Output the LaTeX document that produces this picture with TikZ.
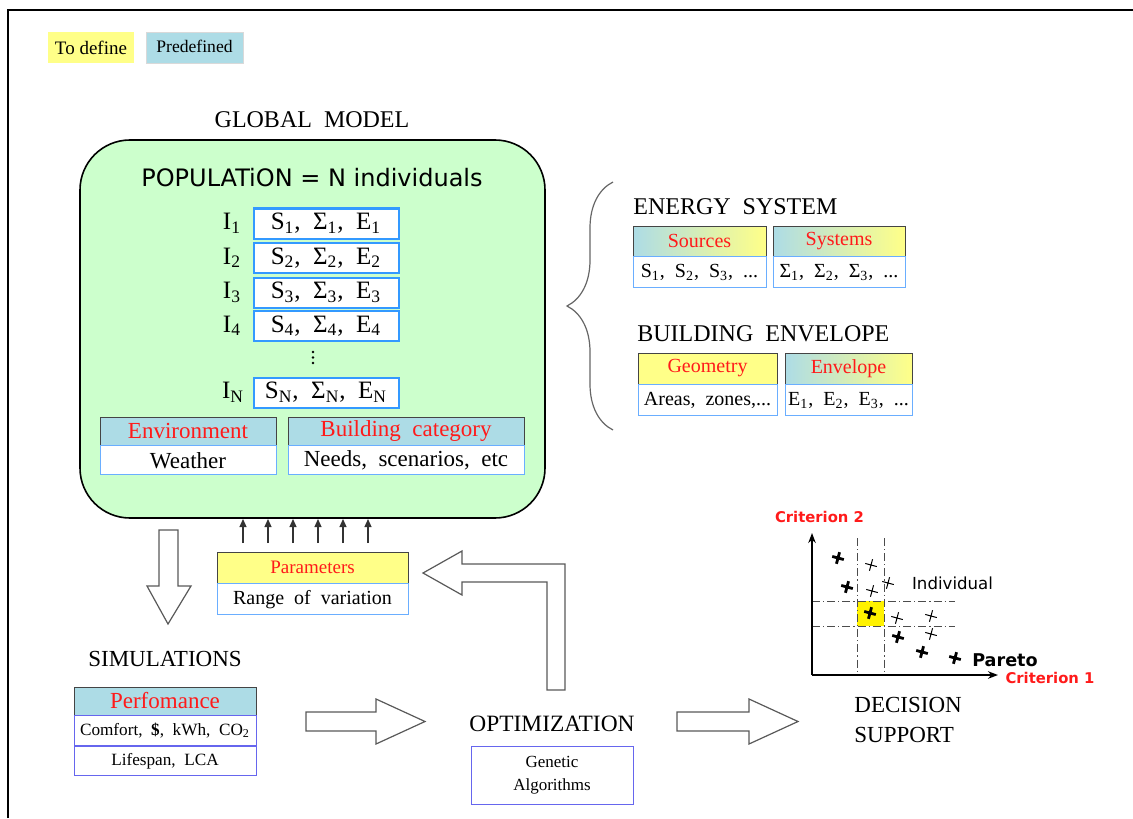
\documentclass[tikz,border=0pt]{standalone}
\usepackage{fontspec}
\setmainfont{Liberation Serif}
\newfontfamily\dvsans{DejaVu Sans}
\usetikzlibrary{positioning,arrows.meta,decorations.pathreplacing}
\definecolor{popgreen}{HTML}{CCFFCC}
\definecolor{predef}{HTML}{ADDCE6}
\definecolor{todef}{HTML}{FFFF88}
\definecolor{indblue}{HTML}{3399FF}
\definecolor{rowblue}{HTML}{6AAEFF}
\definecolor{perfblue}{HTML}{6666EE}
\definecolor{hdrgray}{HTML}{444444}
\definecolor{lblred}{HTML}{FF1A1A}
\newcommand\fs[1]{\fontsize{#1}{#1}\selectfont}
\tikzset{xmark/.pic={\draw (-6,0)--(6,0) (0,-6)--(0,6);}}

\begin{document}
\begin{tikzpicture}[x=0.5pt,y=-0.5pt,
  ttl/.style={font=\fs{12},inner sep=0pt},
  hdr/.style={draw=hdrgray,fill=predef,text=lblred,inner sep=0pt,minimum height=15pt,font=\fs{10}},
  grad/.style={hdr,left color=predef,right color=todef},
  ydr/.style={hdr,fill=todef},
  row/.style={draw=rowblue,fill=white,inner sep=0pt,minimum height=15.5pt,font=\fs{10}},
  prow/.style={row,draw=perfblue,font=\fs{8.6},minimum height=14.75pt},
  ind/.style={draw=indblue,line width=1pt,fill=white,inner sep=0pt,minimum width=72.5pt,
              minimum height=15pt,font=\fs{12.5}},
  lab/.style={font=\fs{12.5},inner sep=0pt},
  blk/.style={draw=black!65,fill=white,line width=0.6pt},
  upar/.style={-{Triangle[length=4pt,width=3.5pt]},draw=black!80,line width=0.6pt},
  axis/.style={line width=0.8pt,-{Stealth[length=5pt]}},
  guide/.style={black!70,line width=0.4pt,dash pattern=on 4pt off 1.5pt on 0.6pt off 1.5pt},
  crit/.style={font=\dvsans\bfseries\fs{7.4},text=lblred,inner sep=0pt}]
\useasboundingbox (0,0) rectangle (1133,818);
\draw[line width=1pt] (7.5,818) -- (7.5,10.5) -- (1133,10.5);

% legend
\node[fill=todef,minimum width=43pt,minimum height=15.5pt,inner sep=0pt,font=\fs{9.5}] (todefine) at (91,47.5) {To define};
\node[fill=predef,draw=black!15,minimum width=48.5pt,minimum height=15.5pt,inner sep=0pt,font=\fs{8.8}] (predefined) at (194.5,47.5) {\raisebox{1pt}{Predefined}};

% global model
\node[ttl] (global) at (312,120) {GLOBAL \ MODEL};
\draw[fill=popgreen,line width=0.8pt,rounded corners=25pt] (80,140) rectangle (545,518);
\node[font=\dvsans\fs{12},inner sep=0pt] (pop) at (312,178) {POPULATiON = N individuals};
\foreach \k/\yy in {1/223.5,2/258,3/292.5,4/326}{
  \node[ind] (ind\k) at (326,\yy) {S\textsubscript{\k}, \ Σ\textsubscript{\k}, \ E\textsubscript{\k}};
  \node[lab] (lab\k) at (232,\yy) {I\textsubscript{\k}};
}
\foreach \yy in {352,357.5,363}
  \fill (313,\yy) circle (1.4);
\node[ind] (indN) at (326,392.5) {S\textsubscript{N}, \ Σ\textsubscript{N}, \ E\textsubscript{N}};
\node[lab] (labN) at (233,392.5) {I\textsubscript{N}};
\node[hdr,minimum width=88pt,minimum height=14pt,font=\fs{11.5}] (env) at (188,431) {Environment};
\node[row,minimum width=88pt,minimum height=14.5pt,font=\fs{11.5},below=0pt of env] (weather) {Weather};
\node[hdr,minimum width=118pt,minimum height=14pt,font=\fs{11.5}] (bcat) at (406,431) {Building \ category};
\node[row,minimum width=118pt,minimum height=14.5pt,font=\fs{11.5},below=0pt of bcat] (needs) {Needs, \ scenarios, \ etc};

% brace and the two sub-models
\draw[black!60,line width=0.6pt,decorate,decoration={brace,amplitude=23pt}] (613,430) -- (613,182);
\node[ttl,anchor=west] (energy) at (633,207) {ENERGY \ SYSTEM};
\node[grad,minimum width=66.5pt] (sources) at (699.5,241) {Sources};
\node[row,minimum width=66.5pt,below=0pt of sources] (slist) {S\textsubscript{1}, \ S\textsubscript{2}, \ S\textsubscript{3}, \ ...};
\node[grad,minimum width=66pt] (systems) at (839,241) {Systems};
\node[row,minimum width=66pt,below=0pt of systems] (siglist) {Σ\textsubscript{1}, \ Σ\textsubscript{2}, \ Σ\textsubscript{3}, \ ...};
\node[ttl,anchor=west] (envelope) at (637,334) {BUILDING \ ENVELOPE};
\node[ydr,minimum width=69.5pt,minimum height=15.5pt] (geom) at (707.5,368.5) {Geometry};
\node[row,minimum width=69.5pt,below=0pt of geom] (areas) {Areas, \ zones,...};
\node[grad,minimum width=63.5pt,minimum height=15.5pt] (envl) at (848.5,368.5) {Envelope};
\node[row,minimum width=63.5pt,below=0pt of envl] (elist) {E\textsubscript{1}, \ E\textsubscript{2}, \ E\textsubscript{3}, \ ...};

% parameters
\foreach \xx in {243,268,293,318,343,368}
  \draw[upar] (\xx,543) -- (\xx,519);
\node[ydr,minimum width=95.5pt,minimum height=15.5pt,font=\fs{9.5}] (param) at (312.5,567.5) {Parameters};
\node[row,minimum width=95.5pt,below=0pt of param] (range) {Range \ of \ variation};

% block arrows
\draw[blk] (159,530) -- (178,530) -- (178,586) -- (191,586) -- (168,624) -- (147,586) -- (159,586) -- cycle;
\draw[blk] (306,712) -- (376,712) -- (376,699) -- (425,721.5) -- (376,744) -- (376,731) -- (306,731) -- cycle;
\draw[blk] (677,712) -- (749,712) -- (749,699) -- (798,721.5) -- (749,744) -- (749,731) -- (677,731) -- cycle;
\draw[blk] (547,690) -- (565,690) -- (565,564) -- (462,564) -- (462,551) -- (423,573)
  -- (462,595) -- (462,582) -- (547,582) -- cycle;

% simulations
\node[ttl,font=\fs{11.5}] (simul) at (165,659) {SIMULATIONS};
\node[hdr,minimum width=91pt,minimum height=14pt,font=\fs{11.5}] (perf) at (165,701) {Perfomance};
\node[prow,minimum width=91pt,below=0pt of perf] (comfort) {Comfort, \ \textbf{\$}, \ kWh, \ CO\textsubscript{2}};
\node[prow,minimum width=91pt,below=0pt of comfort] (life) {Lifespan, \ LCA};

% optimization
\node[ttl,font=\fs{11.7}] (optim) at (552,724) {OPTIMIZATION};
\node[draw=perfblue,minimum width=81pt,minimum height=29pt,align=center,font=\fs{8.5},
      inner sep=0pt] (genetic) at (552,775) {Genetic\\[3pt]Algorithms};

% decision support
\fill[yellow] (857,601) rectangle (884,626);
\draw[guide] (857,538) -- (857,675) (884,538) -- (884,675);
\draw[guide] (812,601) -- (955,601) (812,626) -- (955,626);
\coordinate (origin) at (812,675);
\draw[axis] (origin) -- (812,533);
\draw[axis] (origin) -- (998,675);
\foreach \px/\py in {838/558,847/587,870/613,898/637,922/652,955/658}
  \pic[rotate=-15,line width=1.4pt] at (\px,\py) {xmark};
\foreach \px/\py in {871/565,872/591,888/583,897/618,931/616,931/634}
  \pic[rotate=-15,line width=0.5pt] at (\px,\py) {xmark};
\node[crit] (crit2) at (819.5,517) {Criterion 2};
\node[crit] (crit1) at (1050,678) {Criterion 1};
\node[font=\dvsans\fs{8.3},inner sep=0pt] (indiv) at (952.5,583) {Individual};
\node[font=\dvsans\bfseries\fs{8.8},inner sep=0pt] (pareto) at (1005,660) {Pareto};
\node[ttl,font=\fontsize{11.5}{15}\selectfont,align=left,anchor=west] (decision) at (854,720) {DECISION\\SUPPORT};
\end{tikzpicture}
\end{document}
